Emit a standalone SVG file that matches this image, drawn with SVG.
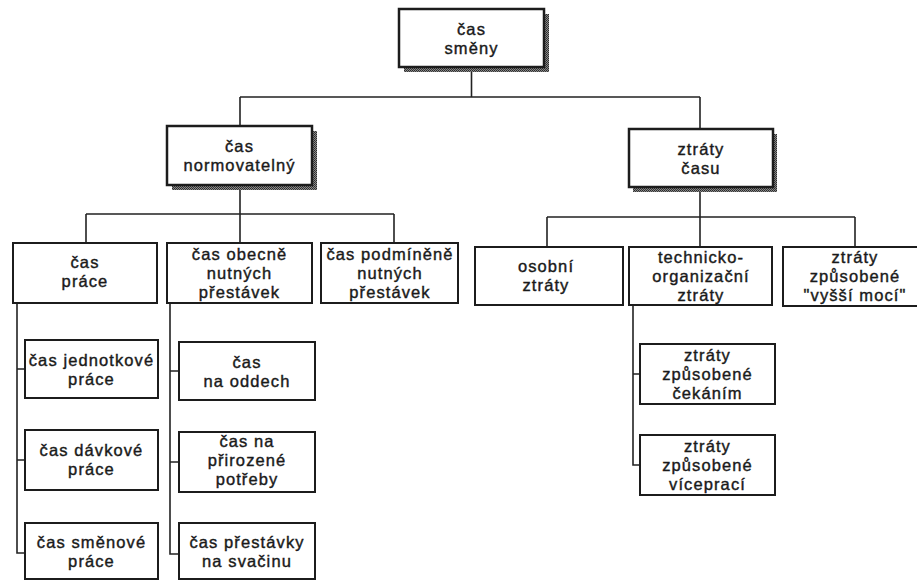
<svg xmlns="http://www.w3.org/2000/svg" width="917" height="581" viewBox="0 0 917 581">
  <defs>
    <!-- halftone fill for the drop shadow of the upper-level boxes -->
    <pattern id="halftone" width="2" height="2" patternUnits="userSpaceOnUse">
      <rect width="2" height="2" fill="#8a8a8a"/>
      <rect width="1" height="1" fill="#2a2a2a"/>
      <rect x="1" y="1" width="1" height="1" fill="#3a3a3a"/>
    </pattern>
  </defs>
  <style>
    .box { fill: #ffffff; stroke: #1c1c1c; stroke-width: 2; }
    .main { stroke-width: 2.5; }
    .shadow { fill: url(#halftone); }
    .wire { fill: none; stroke: #222222; stroke-width: 1.6; }
    text { font-family: "Liberation Sans", Arial, "Noto Sans", sans-serif; font-size: 16.5px; letter-spacing: 1.1px; fill: #1a1a1a; stroke: #1a1a1a; stroke-width: 0.4px; text-anchor: middle; }
  </style>
  <rect width="917" height="581" fill="#ffffff"/>

  <g id="connectors">
    <!-- root to level 1 -->
    <path class="wire" d="M471.5 67 V97 M240 97 H700 M240 97 V126 M700 97 V129"/>
    <!-- čas normovatelný to its children -->
    <path class="wire" d="M240 185 V214 M86 214 H394 M86 214 V243 M240 214 V243 M394 214 V243"/>
    <!-- ztráty času to its children -->
    <path class="wire" d="M700 187 V217 M547 217 H855 M547 217 V247 M700 217 V247 M855 217 V247"/>
    <!-- čas práce breakdown -->
    <path class="wire" d="M17 303 V553 H25 M17 369 H25 M17 460 H25"/>
    <!-- čas obecně nutných přestávek breakdown -->
    <path class="wire" d="M170 303 V554 H179 M170 371 H179 M170 462 H179"/>
    <!-- technicko-organizační ztráty breakdown -->
    <path class="wire" d="M633 305 V465 H640 M633 374 H640"/>
  </g>

  <g id="cas-smeny">
    <rect class="shadow" x="404" y="14" width="145" height="58"/>
    <rect class="box main" x="399" y="9" width="145" height="58"/>
    <text x="471.5" y="34.5">čas</text>
    <text x="471.5" y="53.5">směny</text>
  </g>

  <g id="cas-normovatelny">
    <rect class="shadow" x="172" y="131" width="145" height="59"/>
    <rect class="box main" x="167" y="126" width="145" height="59"/>
    <text x="239.5" y="152">čas</text>
    <text x="239.5" y="171">normovatelný</text>
  </g>

  <g id="ztraty-casu">
    <rect class="shadow" x="633" y="134" width="144" height="58"/>
    <rect class="box main" x="629" y="129" width="144" height="58"/>
    <text x="701" y="154.5">ztráty</text>
    <text x="701" y="173.5">času</text>
  </g>

  <g id="cas-prace">
    <rect class="box" x="13" y="243" width="144" height="60"/>
    <text x="85" y="267.5">čas</text>
    <text x="85" y="286.5">práce</text>
  </g>

  <g id="cas-obecne-nutnych-prestavek">
    <rect class="box" x="167" y="243" width="145" height="60"/>
    <text x="239.5" y="260">čas obecně</text>
    <text x="239.5" y="279">nutných</text>
    <text x="239.5" y="298">přestávek</text>
  </g>

  <g id="cas-podminene-nutnych-prestavek">
    <rect class="box" x="321" y="243" width="137" height="60"/>
    <text x="390" y="260">čas podmíněně</text>
    <text x="390" y="279">nutných</text>
    <text x="390" y="298">přestávek</text>
  </g>

  <g id="osobni-ztraty">
    <rect class="box" x="475" y="247" width="148" height="58"/>
    <text x="546" y="271.5">osobní</text>
    <text x="546" y="290.5">ztráty</text>
  </g>

  <g id="technicko-organizacni-ztraty">
    <rect class="box" x="629" y="247" width="143" height="58"/>
    <text x="701" y="263">technicko-</text>
    <text x="701" y="282">organizační</text>
    <text x="701" y="301">ztráty</text>
  </g>

  <g id="ztraty-vyssi-moci">
    <rect class="box" x="783" y="247" width="150" height="59"/>
    <text x="855" y="263">ztráty</text>
    <text x="855" y="282">způsobené</text>
    <text x="855" y="301">"vyšší mocí"</text>
  </g>

  <g id="cas-jednotkove-prace">
    <rect class="box" x="25" y="340" width="133" height="58"/>
    <text x="91.5" y="365.5">čas jednotkové</text>
    <text x="91.5" y="384.5">práce</text>
  </g>

  <g id="cas-davkove-prace">
    <rect class="box" x="25" y="430" width="133" height="60"/>
    <text x="91.5" y="455.5">čas dávkové</text>
    <text x="91.5" y="474.5">práce</text>
  </g>

  <g id="cas-smenove-prace">
    <rect class="box" x="25" y="523" width="133" height="56"/>
    <text x="91.5" y="547.5">čas směnové</text>
    <text x="91.5" y="566.5">práce</text>
  </g>

  <g id="cas-na-oddech">
    <rect class="box" x="179" y="342" width="136" height="58"/>
    <text x="247" y="367.5">čas</text>
    <text x="247" y="386.5">na oddech</text>
  </g>

  <g id="cas-na-prirozene-potreby">
    <rect class="box" x="179" y="432" width="136" height="60"/>
    <text x="247" y="447">čas na</text>
    <text x="247" y="466">přirozené</text>
    <text x="247" y="485">potřeby</text>
  </g>

  <g id="cas-prestavky-na-svacinu">
    <rect class="box" x="179" y="523" width="136" height="56"/>
    <text x="247" y="547.5">čas přestávky</text>
    <text x="247" y="566.5">na svačinu</text>
  </g>

  <g id="ztraty-cekanim">
    <rect class="box" x="640" y="344" width="135" height="60"/>
    <text x="707.5" y="361">ztráty</text>
    <text x="707.5" y="380">způsobené</text>
    <text x="707.5" y="399">čekáním</text>
  </g>

  <g id="ztraty-viceprace">
    <rect class="box" x="640" y="435" width="135" height="60"/>
    <text x="707.5" y="452">ztráty</text>
    <text x="707.5" y="471">způsobené</text>
    <text x="707.5" y="490">víceprací</text>
  </g>
</svg>
